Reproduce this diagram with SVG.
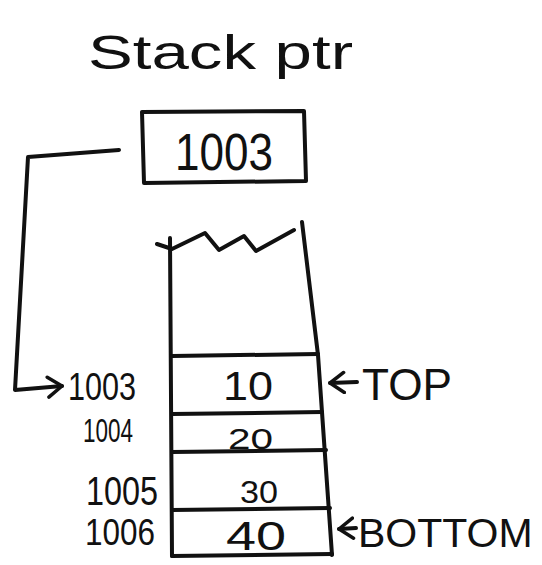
<svg xmlns="http://www.w3.org/2000/svg" width="542" height="565" viewBox="0 0 542 565">
<style>
.ln{fill:none;stroke:#111;stroke-width:4;stroke-linecap:round;stroke-linejoin:round}
.tx{font-family:"Liberation Sans",Arial,sans-serif;fill:#111}
</style>
<defs>
<marker id="ah" markerWidth="20" markerHeight="24" refX="16" refY="12" orient="auto" markerUnits="userSpaceOnUse">
<path d="M2,2 L16,12 L2,22" fill="none" stroke="#111" stroke-width="3.5" stroke-linecap="round" stroke-linejoin="round"/>
</marker>
</defs>
<rect width="542" height="565" fill="#fff"/>
<g id="title"><text class="tx" x="88" y="69" font-size="48" textLength="265" lengthAdjust="spacingAndGlyphs">Stack ptr</text></g>
<g id="ptr">
<path class="ln" d="M142,112 L304,111 L306,181 L144,183 Z"/>
<text class="tx" x="175" y="170" font-size="52" textLength="98" lengthAdjust="spacingAndGlyphs">1003</text>
</g>
<g id="connectors">
<path class="ln" d="M119,150 L28,157 L15,390 L62,386" marker-end="url(#ah)"/>
<path class="ln" d="M357,382 L330,383" marker-end="url(#ah)"/>
<path class="ln" d="M356,528 L339,529" marker-end="url(#ah)"/>
</g>
<g id="stack">
<path class="ln" d="M157,244 L172,249 L205,233 L219,250 L244,236 L256,251 L294,230"/>
<path class="ln" d="M170,238 L172,556"/>
<path class="ln" d="M302,222 L318,355 L332,555"/>
<path class="ln" d="M172,556 L332,554"/>
<path class="ln" d="M172,356 L318,354"/>
<path class="ln" d="M172,414 L322,412"/>
<path class="ln" d="M172,452 L326,450"/>
<path class="ln" d="M172,510 L330,508"/>
</g>
<g id="cells">
<text class="tx" x="223" y="400" font-size="40" textLength="50" lengthAdjust="spacingAndGlyphs">10</text>
<text class="tx" x="228" y="449" font-size="30" textLength="45" lengthAdjust="spacingAndGlyphs">20</text>
<text class="tx" x="240" y="503" font-size="32" textLength="38" lengthAdjust="spacingAndGlyphs">30</text>
<text class="tx" x="226" y="550" font-size="40" textLength="60" lengthAdjust="spacingAndGlyphs">40</text>
</g>
<g id="addresses">
<text class="tx" x="68" y="400" font-size="38" textLength="68" lengthAdjust="spacingAndGlyphs">1003</text>
<text class="tx" x="83" y="442" font-size="34" textLength="50" lengthAdjust="spacingAndGlyphs">1004</text>
<text class="tx" x="86" y="505" font-size="40" textLength="72" lengthAdjust="spacingAndGlyphs">1005</text>
<text class="tx" x="85" y="545" font-size="36" textLength="70" lengthAdjust="spacingAndGlyphs">1006</text>
</g>
<g id="labels">
<text class="tx" x="362" y="400" font-size="44" textLength="90" lengthAdjust="spacingAndGlyphs">TOP</text>
<text class="tx" x="358" y="547" font-size="41">BOTTOM</text>
</g>
</svg>
